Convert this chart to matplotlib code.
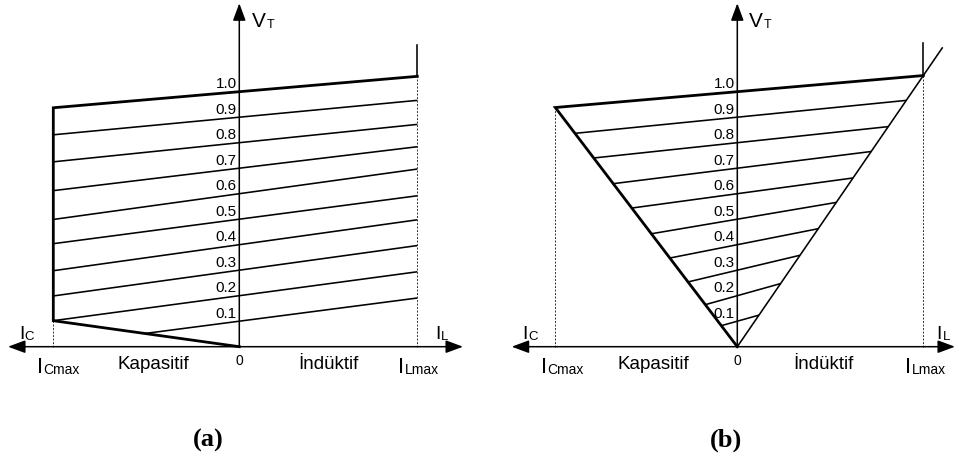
import matplotlib
matplotlib.use("Agg")
import matplotlib.pyplot as plt

plt.rcParams["font.family"] = ["Liberation Sans", "DejaVu Sans"]

# ---------------------------------------------------------------- data
# Reference-voltage levels of the V-I characteristic family
levels = [0.1, 0.2, 0.3, 0.4, 0.5, 0.6, 0.7, 0.8, 0.9, 1.0]
level_labels = ["0.1", "0.2", "0.3", "0.4", "0.5", "0.6", "0.7", "0.8", "0.9", "1.0"]

# Slope (dV/dI, p.u.) of each characteristic line
slopes_a = [0.095, 0.098, 0.101, 0.102, 0.096, 0.101, 0.088, 0.075, 0.069, 0.063]
slopes_b = [0.200, 0.200, 0.170, 0.141, 0.121, 0.097, 0.089, 0.076, 0.071, 0.062]

# Current limits (p.u.)
i_cmax_a, i_lmax_a = 1.0, 0.957
i_cmax_b, i_lmax_b = 1.0, 1.022
# end of the inductive limit line in (b), and top of the I_Lmax marker
i_diag_end_b = 1.126
v_stub_a, v_stub_b = 1.185, 1.19

# ---------------------------------------------------------------- layout
W, H, DPI = 957, 461, 100
THICK, THIN, AXLW, DASHLW = 2.0, 1.15, 1.1, 0.7
DASH = (0, (2.0, 1.6))
HEAD = "head_length=10.5,head_width=3.9"

fig = plt.figure(figsize=(W / DPI, H / DPI), dpi=DPI)


def make_axes(px0, px1, origin, sx, sy):
    ox, oy = origin
    ax = fig.add_axes([px0 / W, 0, (px1 - px0) / W, 1])
    ax.set_xlim((px0 - ox) / sx, (px1 - ox) / sx)
    ax.set_ylim(-(H - oy) / sy, oy / sy)
    ax.axis("off")
    return ax


def draw_axes(ax, x_left, x_right, y_top):
    ax.annotate("", xy=(x_right, 0), xytext=(x_left, 0),
                arrowprops=dict(arrowstyle="<|-|>," + HEAD, mutation_scale=1,
                                lw=AXLW, color="black", shrinkA=0, shrinkB=0))
    ax.annotate("", xy=(0, y_top), xytext=(0, 0),
                arrowprops=dict(arrowstyle="-|>," + HEAD, mutation_scale=1,
                                lw=AXLW, color="black", shrinkA=0, shrinkB=0))


def sub_label(ax, xy, offset, main, sub, size, sub_size, drop=0.0):
    t = ax.annotate(main, xy=xy, xytext=offset, textcoords="offset points",
                    ha="left", va="baseline", fontsize=size)
    ax.annotate(sub, xy=(1, 0), xycoords=t, xytext=(0.3, -drop),
                textcoords="offset points", ha="left", va="bottom",
                fontsize=sub_size)


def level_text(ax):
    for v, lab in zip(levels, level_labels):
        ax.annotate(lab, xy=(0, v), xytext=(-1.8, 2.4), textcoords="offset points",
                    ha="right", va="baseline", fontsize=11)


def common_text(ax, x_left, y_top, i_cmax, i_lmax, offs):
    sub_label(ax, (0, y_top), offs["vt"], "V", "T", 15, 9, drop=0.6)
    sub_label(ax, (x_left, 0), (7.9, 5.2), "I", "C", 14, 9.5)
    sub_label(ax, (i_lmax, 0), offs["il"], "I", "L", 14, 9.5)
    sub_label(ax, (-i_cmax, 0), offs["icmax"], "I", "Cmax", 16, 10, drop=-1.0)
    sub_label(ax, (i_lmax, 0), offs["ilmax"], "I", "Lmax", 16, 10, drop=-1.0)
    ax.annotate("Kapasitif", xy=(-i_cmax / 2, 0), xytext=offs["kap"],
                textcoords="offset points", ha="center", va="baseline", fontsize=13.5)
    ax.annotate("İndüktif", xy=(i_lmax / 2, 0), xytext=offs["ind"],
                textcoords="offset points", ha="center", va="baseline", fontsize=13.5)
    ax.annotate("0", xy=(0, 0), xytext=(0, -5.5), textcoords="offset points",
                ha="center", va="top", fontsize=10)


# ---------------------------------------------------------------- panel (a)
ax = make_axes(0, 478, (239.3, 346.7), 186, 255)
xl_a, xr_a, yt = -1.2435, 1.2027, 1.3467

# thin characteristic lines: from the capacitive limit (or droop line) to I_Lmax
v_corner = levels[1] - slopes_a[1] * i_cmax_a          # bottom of the capacitive limit
for v, k in zip(levels[:-1], slopes_a[:-1]):
    if v * 1.0 < levels[1]:
        i0 = -v / (v_corner / i_cmax_a + k)                # meets the droop line
    else:
        i0 = -i_cmax_a
    ax.plot([i0, i_lmax_a], [v + k * i0, v + k * i_lmax_a], color="black",
            lw=THIN, solid_capstyle="butt")

v_top, k_top = levels[-1], slopes_a[-1]
v_tl = v_top - k_top * i_cmax_a
v_tr = v_top + k_top * i_lmax_a
# dashed projections of the current limits
ax.plot([-i_cmax_a, -i_cmax_a], [0, v_corner], color="#333333", lw=DASHLW, ls=DASH)
ax.plot([i_lmax_a, i_lmax_a], [0, v_tr], color="#333333", lw=DASHLW, ls=DASH)
# outer boundary
ax.plot([i_lmax_a, -i_cmax_a, -i_cmax_a, 0], [v_tr, v_tl, v_corner, 0],
        color="black", lw=THICK, solid_joinstyle="miter")
ax.plot([i_lmax_a, i_lmax_a], [v_tr, v_stub_a], color="black", lw=THIN)

draw_axes(ax, xl_a, xr_a, yt)
level_text(ax)
common_text(ax, xl_a, yt, i_cmax_a, i_lmax_a,
            dict(vt=(9.1, -16.8), il=(12.7, 5.2), icmax=(-11.7, -19.2),
                 ilmax=(-13.9, -19.2), kap=(5.2, -16.3), ind=(0, -16.3)))

# ---------------------------------------------------------------- panel (b)
bx = make_axes(478, 957, (737.3, 346.7), 182, 255)
xl_b, xr_b = -1.2396, 1.196

v_top, k_top = levels[-1], slopes_b[-1]
v_tl = v_top - k_top * i_cmax_b
v_tr = v_top + k_top * i_lmax_b
a_left = v_tl / i_cmax_b        # capacitive limit line  V = -a_left * I
b_right = v_tr / i_lmax_b       # inductive limit line   V =  b_right * I

for v, k in zip(levels[:-1], slopes_b[:-1]):
    i0 = -v / (a_left + k)
    i1 = v / (b_right - k)
    bx.plot([i0, i1], [v + k * i0, v + k * i1], color="black", lw=THIN,
            solid_capstyle="butt")

bx.plot([-i_cmax_b, -i_cmax_b], [0, v_tl], color="#333333", lw=DASHLW, ls=DASH)
bx.plot([i_lmax_b, i_lmax_b], [0, v_tr], color="#333333", lw=DASHLW, ls=DASH)
bx.plot([0, i_diag_end_b], [0, b_right * i_diag_end_b], color="black", lw=THIN)
bx.plot([i_lmax_b, -i_cmax_b, 0], [v_tr, v_tl, 0], color="black", lw=THICK,
        solid_joinstyle="miter")
bx.plot([i_lmax_b, i_lmax_b], [v_tr, v_stub_b], color="black", lw=THIN)

draw_axes(bx, xl_b, xr_b, yt)
level_text(bx)
common_text(bx, xl_b, yt, i_cmax_b, i_lmax_b,
            dict(vt=(8.4, -16.8), il=(9.6, 5.2), icmax=(-10.3, -19.2),
                 ilmax=(-13.2, -19.2), kap=(4.8, -16.3), ind=(-5.3, -16.3)))

# ---------------------------------------------------------------- captions
for xc, cap in [(208, "(a)"), (725.7, "(b)")]:
    fig.text(xc / W, 1 - 440 / H, cap, ha="center", va="center", fontsize=19,
             fontweight="bold", family="Liberation Serif")

fig.savefig("out.png", dpi=DPI)
